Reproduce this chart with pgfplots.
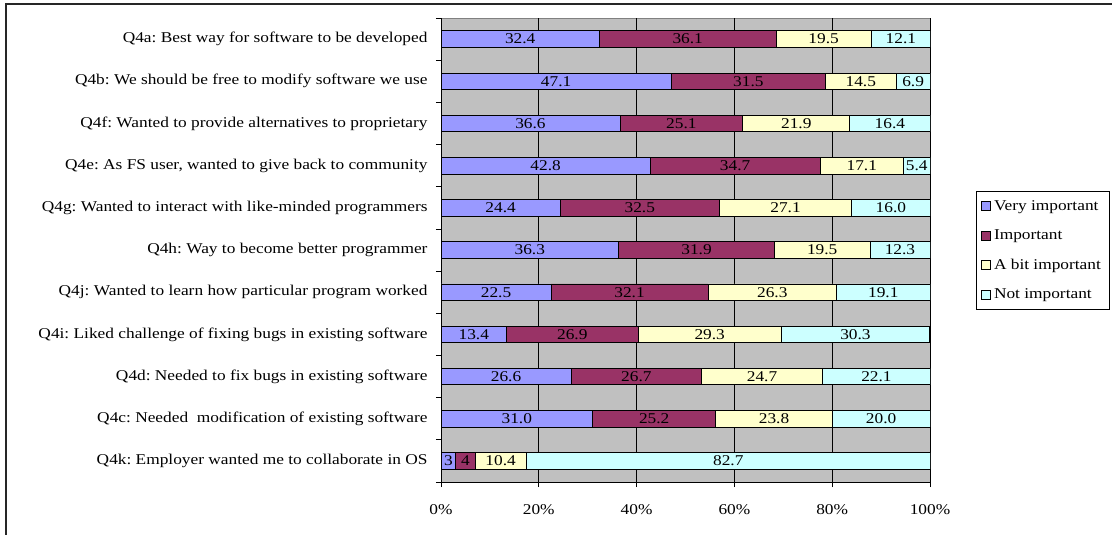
\documentclass[border=0pt]{standalone}
\usepackage{fontspec}
\setmainfont{Liberation Serif}[FakeStretch=1.16]
\usepackage{pgfplots}
\usepackage{pgfplotstable}
\pgfplotsset{compat=1.18}
\frenchspacing

\definecolor{vimp}{HTML}{9999FF}
\definecolor{imp}{HTML}{993366}
\definecolor{abit}{HTML}{FFFFCC}
\definecolor{notimp}{HTML}{CCFFFF}
\definecolor{plotbg}{HTML}{C0C0C0}

% shares of respondents per motive (%)
\pgfplotstableread{
idx a    b    c    d
0   32.4 36.1 19.5 12.1
1   47.1 31.5 14.5 6.9
2   36.6 25.1 21.9 16.4
3   42.8 34.7 17.1 5.4
4   24.4 32.5 27.1 16.0
5   36.3 31.9 19.5 12.3
6   22.5 32.1 26.3 19.1
7   13.4 26.9 29.3 30.3
8   26.6 26.7 24.7 22.1
9   31.0 25.2 23.8 20.0
10  3    4    10.4 82.7
}\motives

\newcommand{\chartfont}{\fontsize{15}{17}\selectfont}

\begin{document}
\begin{tikzpicture}
\pgfplotsset{
  frame/.style={
    scale only axis,
    width=489bp, height=464bp,
    at={(441bp,53bp)}, anchor=south west,
    xmin=0, xmax=100, ymin=-0.5, ymax=10.5,
    y dir=reverse,
  },
}
\begin{axis}[
  frame,
  xbar stacked,
  bar width=16.5bp,
  axis background/.style={fill=plotbg, draw=gray},
  axis x line*=bottom, axis y line*=left,
  axis line style={black, line width=0.8bp},
  xtick={0,20,40,60,80,100},
  xticklabels={0\%,20\%,40\%,60\%,80\%,100\%},
  xmajorgrids,
  major grid style={black, line width=0.7bp},
  ytick={0,...,10},
  yticklabels={
    Q4a: Best way for software to be developed,
    Q4b: We should be free to modify software we use,
    Q4f: Wanted to provide alternatives to proprietary,
    {Q4e: As FS user, wanted to give back to community},
    Q4g: Wanted to interact with like-minded programmers,
    Q4h: Way to become better programmer,
    Q4j: Wanted to learn how particular program worked,
    Q4i: Liked challenge of fixing bugs in existing software,
    Q4d: Needed to fix bugs in existing software,
    Q4c: Needed\ \ modification of existing software,
    Q4k: Employer wanted me to collaborate in OS},
  minor ytick={-0.5,0.5,...,10.5},
  major y tick style={draw=none},
  tick align=outside,
  major tick length=5bp, minor tick length=5bp,
  tick style={black, line width=0.8bp},
  ticklabel style={font=\chartfont},
  yticklabel style={xshift=-5bp},
  xticklabel style={yshift=-14bp},
  every axis plot/.append style={draw=black, line width=0.7bp},
  legend image code/.code={\draw[#1, draw=black, line width=0.7bp] (0bp,-4.5bp) rectangle (9bp,4.5bp);},
  legend style={at={(1.094,0.627)}, anchor=north west, font=\chartfont,
    draw=black, line width=0.7bp, row sep=14bp, inner xsep=5bp, inner ysep=7bp,
    nodes={inner xsep=3bp}},
  legend cell align=left,
]
\addplot[fill=vimp]   table[x=a, y=idx] {\motives};
\addplot[fill=imp]    table[x=b, y=idx] {\motives};
\addplot[fill=abit]   table[x=c, y=idx] {\motives};
\addplot[fill=notimp] table[x=d, y=idx] {\motives};
\legend{Very important, Important, A bit important, Not important}
\end{axis}

% value labels centred in each segment
\begin{axis}[
  frame,
  hide axis,
  nodes near coords,
  point meta=explicit symbolic,
  every node near coord/.append style={anchor=center, text=black, font=\chartfont, inner sep=0pt},
]
\addplot[draw=none, mark=none] table[x expr=\thisrow{a}/2, y=idx, meta=a] {\motives};
\addplot[draw=none, mark=none] table[x expr=\thisrow{a}+\thisrow{b}/2, y=idx, meta=b] {\motives};
\addplot[draw=none, mark=none] table[x expr=\thisrow{a}+\thisrow{b}+\thisrow{c}/2, y=idx, meta=c] {\motives};
\addplot[draw=none, mark=none] table[x expr=\thisrow{a}+\thisrow{b}+\thisrow{c}+\thisrow{d}/2, y=idx, meta=d] {\motives};
\end{axis}

% outer chart frame
\draw[line width=1.5bp, black!85] (6bp,531bp) rectangle (1130bp,-20bp);
\pgfresetboundingbox
\path[use as bounding box] (0bp,0bp) rectangle (1112bp,535bp);
\end{tikzpicture}
\end{document}
